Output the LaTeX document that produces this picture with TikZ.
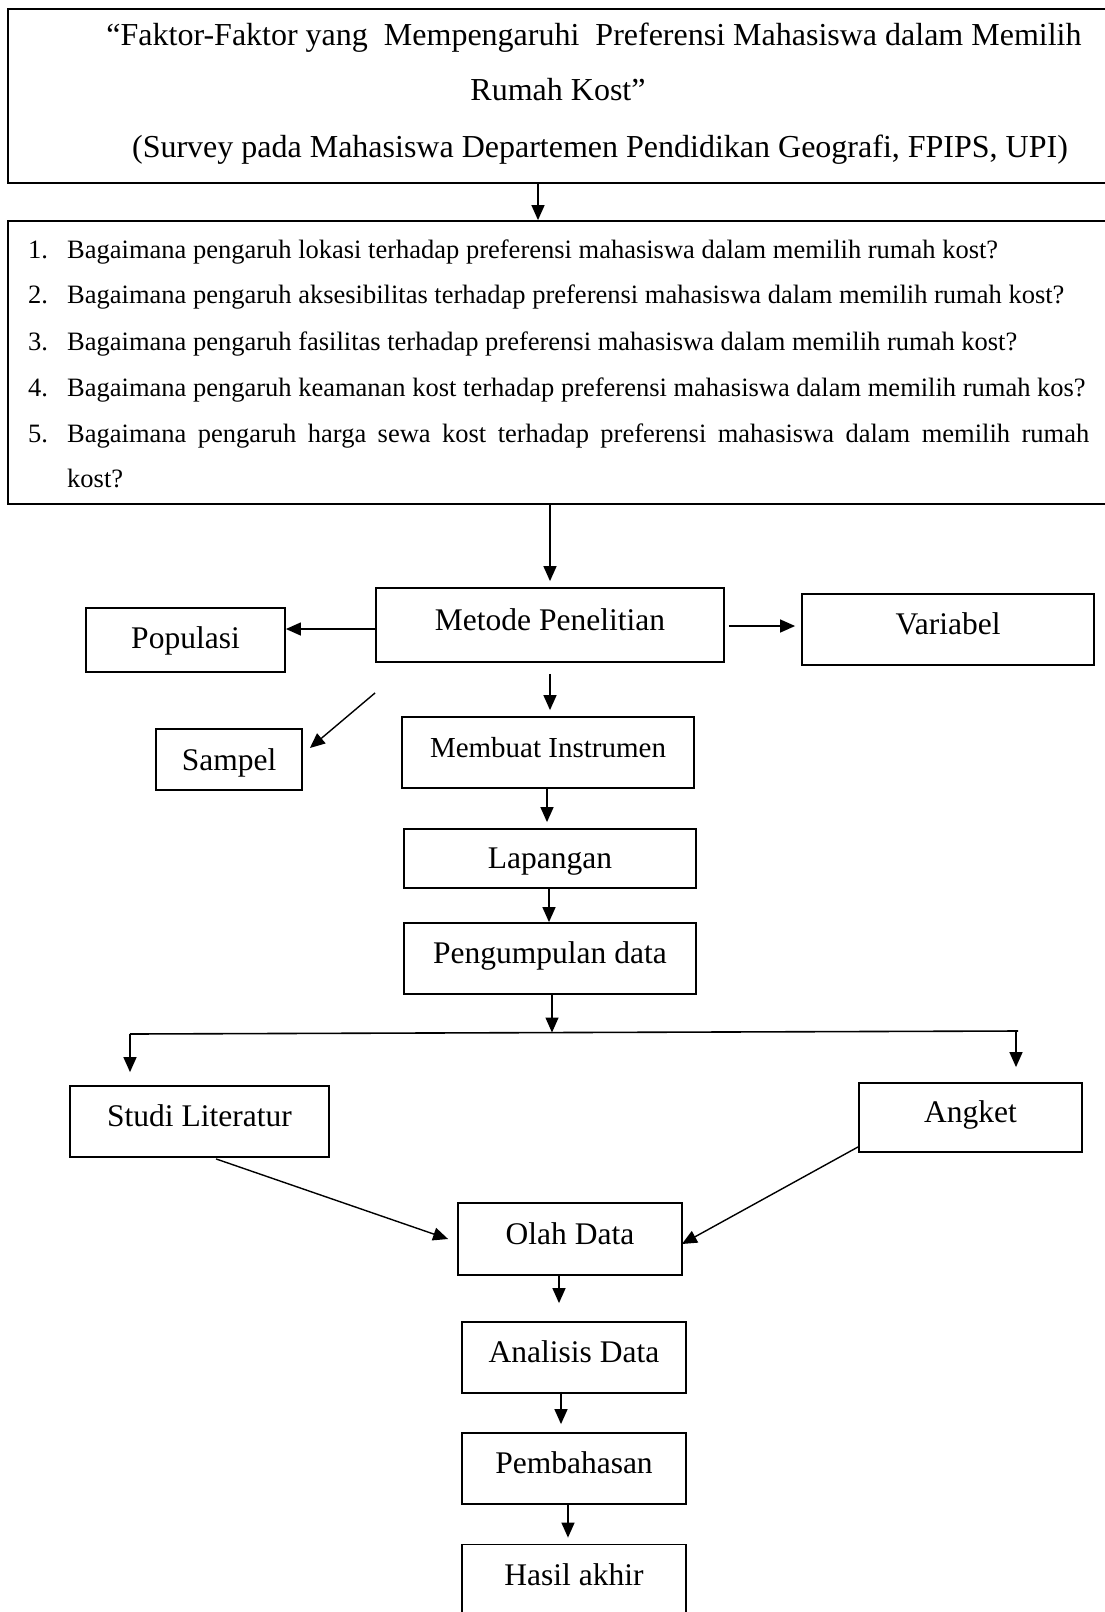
\documentclass[tikz,border=0pt]{standalone}
\usepackage{fontspec}
\setmainfont{Liberation Serif}
\usetikzlibrary{arrows.meta,calc}
\begin{document}
\begin{tikzpicture}[x=1pt,y=-1pt,
  box/.style={draw, line width=1.8pt, inner sep=0pt, font=\fontsize{31.5}{36}\selectfont, text height=22pt, text depth=12pt},
  tfont/.style={inner sep=0pt, font=\fontsize{32}{38}\selectfont},
  qfont/.style={inner sep=0pt, font=\fontsize{26.5}{32}\selectfont},
  arr/.style={line width=1.4pt, -{Triangle[length=15pt,width=13pt]}},
  ln/.style={line width=1.6pt}]
\useasboundingbox (0,0) rectangle (1105,1612);
\clip (0,0) rectangle (1105,1612);
% title box
\node[box, minimum width=1104pt, minimum height=174pt] (title) at (560,96) {};
\node[tfont, anchor=base] (t1) at (594,45) {“Faktor-Faktor yang\ \ Mempengaruhi\ \ Preferensi Mahasiswa dalam Memilih};
\node[tfont, anchor=base] (t2) at (558,100) {Rumah Kost”};
\node[tfont, anchor=base] (t3) at (600,157) {(Survey pada Mahasiswa Departemen Pendidikan Geografi, FPIPS, UPI)};
% questions box
\node[box, minimum width=1104pt, minimum height=283pt] (quest) at (560,362.5) {};
\node[qfont, anchor=base west] (n1) at (28,258) {1.};
\node[qfont, anchor=base west] (q1) at (67,258) {Bagaimana pengaruh lokasi terhadap preferensi mahasiswa dalam memilih rumah kost?};
\node[qfont, anchor=base west] (n2) at (28,303) {2.};
\node[qfont, anchor=base west] (q2) at (67,303) {Bagaimana pengaruh aksesibilitas terhadap preferensi mahasiswa dalam memilih rumah kost?};
\node[qfont, anchor=base west] (n3) at (28,350) {3.};
\node[qfont, anchor=base west] (q3) at (67,350) {Bagaimana pengaruh fasilitas terhadap preferensi mahasiswa dalam memilih rumah kost?};
\node[qfont, anchor=base west] (n4) at (28,396) {4.};
\node[qfont, anchor=base west] (q4) at (67,396) {Bagaimana pengaruh keamanan kost terhadap preferensi mahasiswa dalam memilih rumah kos?};
\node[qfont, anchor=base west] (n5) at (28,442) {5.};
\node[qfont, anchor=base west] (q5) at (67,442) {\makebox[1022pt][s]{Bagaimana pengaruh harga sewa kost terhadap preferensi mahasiswa dalam memilih rumah}};
\node[qfont, anchor=base west] (q5b) at (67,487) {kost?};
% method boxes
\node[box, minimum width=348pt, minimum height=74pt] (metode) at (550,625) {Metode Penelitian};
\node[box, minimum width=199pt, minimum height=64pt, text height=25pt, text depth=9pt] (populasi) at (185.5,640) {Populasi};
\node[box, minimum width=292pt, minimum height=71pt] (variabel) at (948,629.5) {Variabel};
\node[box, minimum width=146pt, minimum height=61pt, text height=28pt, text depth=6pt] (sampel) at (229,759.5) {Sampel};
\node[box, minimum width=292pt, minimum height=71pt, font=\fontsize{29}{34}\selectfont] (membuat) at (548,752.5) {Membuat Instrumen};
\node[box, minimum width=292pt, minimum height=59pt, text height=27pt, text depth=7pt] (lapangan) at (550,858.5) {Lapangan};
\node[box, minimum width=292pt, minimum height=71pt] (peng) at (550,958.5) {Pengumpulan data};
\node[box, minimum width=259pt, minimum height=71pt] (studi) at (199.5,1121.5) {Studi Literatur};
\node[box, minimum width=223pt, minimum height=69pt] (angket) at (970.5,1117.5) {Angket};
\node[box, minimum width=224pt, minimum height=72pt] (olah) at (570,1239) {Olah Data};
\node[box, minimum width=224pt, minimum height=71pt] (analisis) at (574,1357.5) {Analisis Data};
\node[box, minimum width=224pt, minimum height=71pt] (pemb) at (574,1468.5) {Pembahasan};
\node[box, minimum width=224pt, minimum height=71pt] (hasil) at (574,1580) {Hasil akhir};
% connectors
\draw[arr] ([xshift=-22pt]title.south) -- ([xshift=-22pt]quest.north);
\draw[arr] (quest.south -| metode.north) -- ([yshift=6pt]metode.north);
\draw[arr] ([yshift=-4pt]metode.west) -- ([yshift=-4pt]metode.west -| populasi.east);
\draw[arr] ([xshift=4pt,yshift=-1pt]metode.east) -- ([xshift=-6pt,yshift=-1pt]metode.east -| variabel.west);
\draw[arr] ([yshift=-30pt]metode.south west) -- ([xshift=7pt,yshift=11.5pt]sampel.east);
\draw[arr] ([yshift=-11pt]metode.south) -- ([yshift=6pt]metode.south |- membuat.north);
\draw[arr] ([xshift=-1pt]membuat.south) -- ([xshift=-1pt,yshift=6pt]membuat.south |- lapangan.north);
\draw[arr] ([xshift=-1pt]lapangan.south) -- ([xshift=-1pt]lapangan.south |- peng.north);
\coordinate (bl) at (130,1034);
\coordinate (br) at (1018,1031);
\coordinate (bm) at (552,1032.5);
\draw[arr] ([xshift=2pt]peng.south) -- ([xshift=2pt]peng.south |- bm);
\draw[ln] (bl) -- (br);
\draw[arr] (bl) -- ([yshift=13pt]bl |- studi.north);
\draw[arr] ([xshift=-2pt]br) -- ([xshift=-2pt,yshift=15pt]br |- angket.north);
\draw[arr] ([xshift=16.5pt,yshift=-1pt]studi.south) -- ([xshift=-9pt]olah.west);
\draw[arr] ([yshift=6pt]angket.south west) -- ([xshift=-1pt,yshift=-5pt]olah.east);
\draw[arr] ([xshift=-11pt]olah.south) -- ([xshift=-11pt,yshift=18pt]olah.south |- analisis.north);
\draw[arr] ([xshift=-13pt,yshift=2pt]analisis.south) -- ([xshift=-13pt,yshift=8pt]analisis.south |- pemb.north);
\draw[arr] ([xshift=-6pt]pemb.south) -- ([xshift=-6pt,yshift=6pt]pemb.south |- hasil.north);
\end{tikzpicture}
\end{document}
